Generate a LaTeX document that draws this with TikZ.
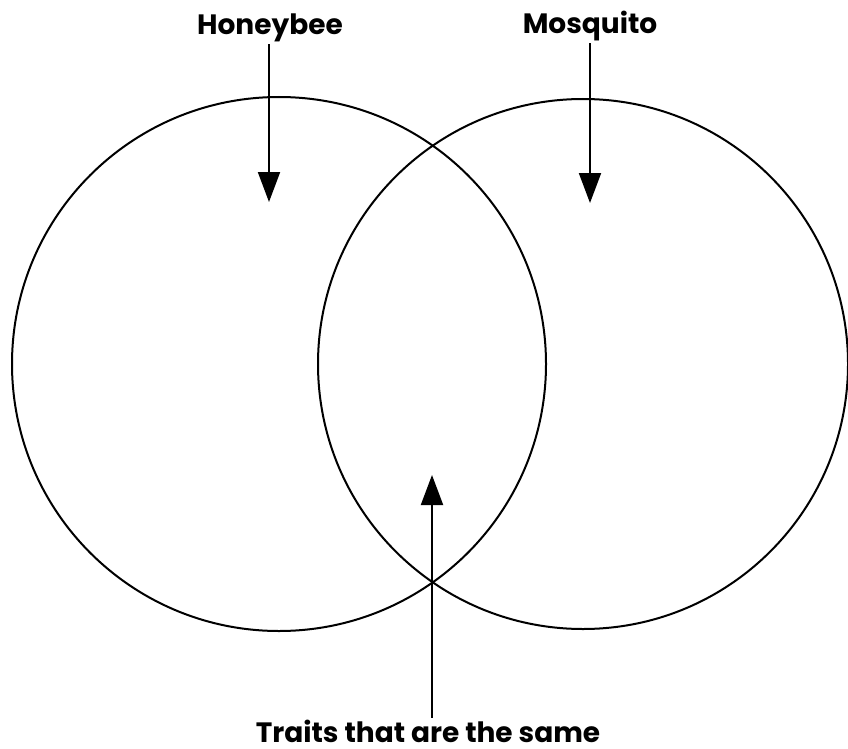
\documentclass[tikz,border=0pt]{standalone}
\usepackage{fontspec}
\setsansfont{Poppins}
\usetikzlibrary{arrows.meta}

\begin{document}
\begin{tikzpicture}[x=1pt, y=-1pt, line width=2pt,
    pointer/.style={-{Triangle[width=22pt, length=30pt]}},
    title/.style={font=\sffamily\bfseries\fontsize{28}{30}\selectfont, inner sep=1pt, anchor=base}]
    \useasboundingbox (0,0) rectangle (848,749);

    \coordinate (L) at (279, 364);      % left circle centre
    \coordinate (R) at (583, 364);      % right circle centre
    \coordinate (beetip) at (269, 202);
    \coordinate (mostip) at (590, 203);
    \coordinate (sametip) at (432, 475);

    % The two overlapping circles
    \draw (L) circle (267);
    \draw (R) circle (265);

    % Labels
    \node[title] (bee) at (270, 35) {Honeybee};
    \node[title] (mos) at (590, 34) {Mosquito};
    \node[title] (same) at (428, 742) {Traits that are the same};

    % Arrows into each region
    \draw[pointer] (bee.south -| beetip) -- (beetip);
    \draw[pointer] (mos.south -| mostip) -- (mostip);
    \draw[pointer] (same.north -| sametip) -- (sametip);
\end{tikzpicture}
\end{document}
